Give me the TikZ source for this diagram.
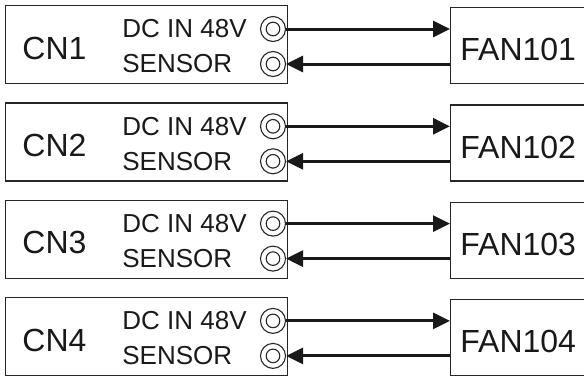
\documentclass[tikz,border=0pt]{standalone}
\usepackage{fontspec}
\setmainfont{Liberation Sans}
\usetikzlibrary{arrows.meta, positioning}

\begin{document}
\begin{tikzpicture}[x=1pt, y=1pt, thick,
 cn box/.style={draw=black!85, line width=1.4pt, minimum width=282pt,
   minimum height=78pt, anchor=north west, inner sep=0pt},
 fan box/.style={draw=black!85, line width=1.4pt, minimum width=200pt,
   minimum height=76pt, anchor=north west, inner sep=0pt},
 port/.style={circle, draw=black!85, line width=1.1pt, minimum size=25pt, inner sep=0pt,
   path picture={\draw[line width=1.1pt] (path picture bounding box.center) circle (6.8pt);}},
 big label/.style={font=\fontsize{32}{32}\selectfont, inner sep=0pt, anchor=west, text=black!90},
 pin label/.style={font=\fontsize{26}{26}\selectfont, inner sep=0pt, anchor=west, text=black!90},
 wire/.style={line width=3pt, draw=black!90, -{Triangle[length=17pt,width=16pt]}}]

  \clip (0,0) rectangle (584,-376);

  \foreach \i in {1,...,4} {
    \pgfmathsetmacro\rowtop{-5-(\i-1)*97.3}
    \node[cn box] (cn\i) at (5,\rowtop) {};
    \node[fan box] (fan\i) at (450,\rowtop-2) {};
    \node[port] (in\i) at (273,\rowtop-24) {};
    \node[port] (sen\i) at (273,\rowtop-59) {};
    \node[big label] (cnlab\i) at ([xshift=17pt,yshift=-3.5pt]cn\i.west) {CN\i};
    \node[big label] (fanlab\i) at ([xshift=10pt,yshift=-4pt]fan\i.west) {FAN10\i};
    \node[pin label] (dc\i) at (122,\rowtop-24) {DC IN 48V};
    \node[pin label] (sn\i) at (122,\rowtop-59) {SENSOR};

    \draw[wire] (in\i.east) -- (fan\i.west |- in\i);
    \draw[wire] (fan\i.west |- sen\i) -- (sen\i.east);
  }
\end{tikzpicture}
\end{document}
